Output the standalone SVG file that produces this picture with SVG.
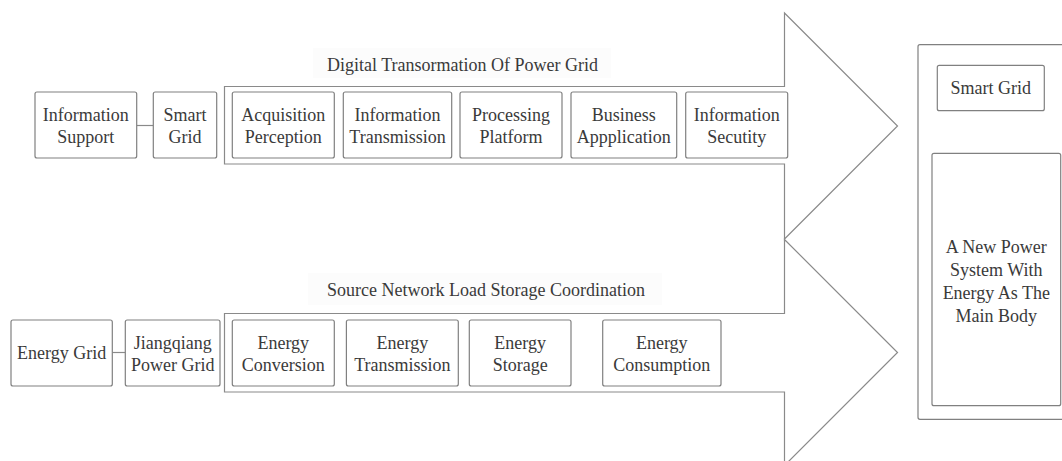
<svg xmlns="http://www.w3.org/2000/svg" width="1062" height="461" viewBox="0 0 1062 461" font-family="'Liberation Serif', 'DejaVu Serif', serif">
  <style>
    .box { fill: #ffffff; stroke: #808080; stroke-width: 1.2; }
    .arrow { fill: #ffffff; stroke: #8a8a8a; stroke-width: 1.2; stroke-linejoin: miter; }
    .link { stroke: #8a8a8a; stroke-width: 1.2; fill: none; }
    .titlebg { fill: #fcfcfc; stroke: none; }
    text { font-family: 'Liberation Serif', 'DejaVu Serif', serif; font-size: 18px; fill: #3a3a3a; }
    .c { text-anchor: middle; }
  </style>

  <!-- Big flow arrows -->
  <g id="arrows">
    <path class="arrow" d="M224.5,86.5 H784.5 V13 L897.5,126 L784.5,239 V164 H224.5 Z"/>
    <path class="arrow" d="M224.5,313.5 H784.5 V239.5 L897.5,352.5 L784.5,465.5 V392 H224.5 Z"/>
  </g>

  <!-- Arrow titles -->
  <g id="title-digital">
    <rect class="titlebg" x="313" y="48" width="298" height="30"/>
    <text x="327" y="70.5">Digital Transormation Of Power Grid</text>
  </g>
  <g id="title-coordination">
    <rect class="titlebg" x="308" y="273" width="354" height="32"/>
    <text x="327" y="295.5">Source Network Load Storage Coordination</text>
  </g>

  <!-- Connectors -->
  <g id="connectors">
    <line class="link" x1="136.7" y1="125.5" x2="153.3" y2="125.5"/>
    <line class="link" x1="112.3" y1="352.5" x2="125.3" y2="352.5"/>
  </g>

  <!-- Top row -->
  <g id="information-support">
    <rect class="box" x="35" y="92" width="101.7" height="66" rx="2"/>
    <text class="c" x="85.8" y="120.5">Information</text>
    <text class="c" x="85.8" y="143">Support</text>
  </g>
  <g id="smart-grid-left">
    <rect class="box" x="153.3" y="92" width="63.4" height="66" rx="2"/>
    <text class="c" x="185" y="120.5">Smart</text>
    <text class="c" x="185" y="143">Grid</text>
  </g>
  <g id="acquisition-perception">
    <rect class="box" x="232.3" y="92" width="102" height="66" rx="2"/>
    <text class="c" x="283.3" y="120.5">Acquisition</text>
    <text class="c" x="283.3" y="143">Perception</text>
  </g>
  <g id="information-transmission">
    <rect class="box" x="343.3" y="92" width="108.4" height="66" rx="2"/>
    <text class="c" x="397.5" y="120.5">Information</text>
    <text class="c" x="397.5" y="143">Transmission</text>
  </g>
  <g id="processing-platform">
    <rect class="box" x="460" y="92" width="102" height="66" rx="2"/>
    <text class="c" x="511" y="120.5">Processing</text>
    <text class="c" x="511" y="143">Platform</text>
  </g>
  <g id="business-application">
    <rect class="box" x="571" y="92" width="105.7" height="66" rx="2"/>
    <text class="c" x="623.8" y="120.5">Business</text>
    <text class="c" x="623.8" y="143">Appplication</text>
  </g>
  <g id="information-security">
    <rect class="box" x="685.7" y="92" width="102" height="66" rx="2"/>
    <text class="c" x="736.7" y="120.5">Information</text>
    <text class="c" x="736.7" y="143">Secutity</text>
  </g>

  <!-- Bottom row -->
  <g id="energy-grid">
    <rect class="box" x="11" y="320" width="101.3" height="66" rx="2"/>
    <text class="c" x="61.7" y="359">Energy Grid</text>
  </g>
  <g id="jiangqiang-power-grid">
    <rect class="box" x="125.3" y="320" width="94.7" height="66" rx="2"/>
    <text class="c" x="172.7" y="348.5">Jiangqiang</text>
    <text class="c" x="172.7" y="371">Power Grid</text>
  </g>
  <g id="energy-conversion">
    <rect class="box" x="232.3" y="320" width="102" height="66" rx="2"/>
    <text class="c" x="283.3" y="348.5">Energy</text>
    <text class="c" x="283.3" y="371">Conversion</text>
  </g>
  <g id="energy-transmission">
    <rect class="box" x="346.4" y="320" width="111.9" height="66" rx="2"/>
    <text class="c" x="402.4" y="348.5">Energy</text>
    <text class="c" x="402.4" y="371">Transmission</text>
  </g>
  <g id="energy-storage">
    <rect class="box" x="469.3" y="320" width="101.7" height="66" rx="2"/>
    <text class="c" x="520.2" y="348.5">Energy</text>
    <text class="c" x="520.2" y="371">Storage</text>
  </g>
  <g id="energy-consumption">
    <rect class="box" x="602.7" y="320" width="118.3" height="66" rx="2"/>
    <text class="c" x="661.8" y="348.5">Energy</text>
    <text class="c" x="661.8" y="371">Consumption</text>
  </g>

  <!-- Result panel -->
  <g id="result-panel">
    <rect class="box" x="918" y="44.7" width="160" height="374.6" rx="2"/>
  </g>
  <g id="smart-grid-right">
    <rect class="box" x="937.3" y="65.3" width="107" height="45.4" rx="2"/>
    <text class="c" x="990.8" y="94">Smart Grid</text>
  </g>
  <g id="new-power-system">
    <rect class="box" x="932" y="153.3" width="128.7" height="252.4" rx="2"/>
    <text class="c" x="996.3" y="252.5">A New Power</text>
    <text class="c" x="996.3" y="275.5">System With</text>
    <text class="c" x="996.3" y="298.5">Energy As The</text>
    <text class="c" x="996.3" y="321.5">Main Body</text>
  </g>
</svg>
